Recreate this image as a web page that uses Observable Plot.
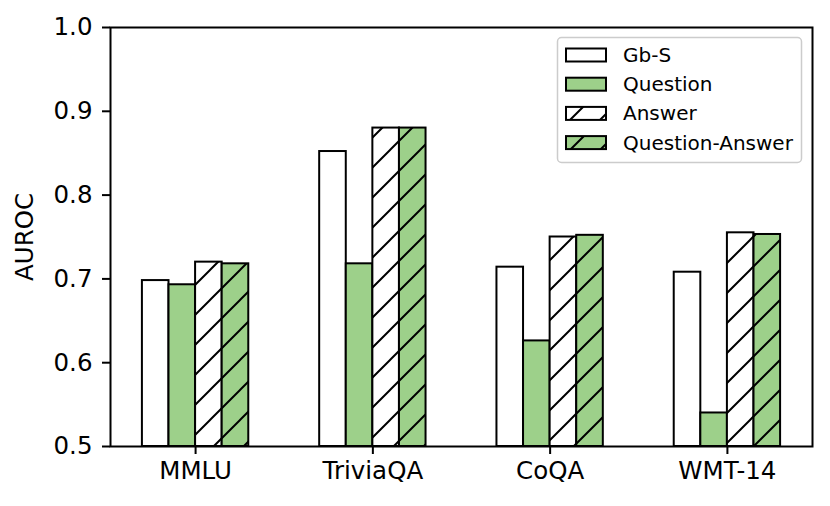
<!DOCTYPE html>
<html>
<head>
<meta charset="utf-8">
<script src="https://cdn.jsdelivr.net/npm/d3@7"></script>
<script src="https://cdn.jsdelivr.net/npm/@observablehq/plot@0.6"></script>
<style>
  html, body { margin: 0; padding: 0; background: white; }
  #chart svg { display: block; }
</style>
</head>
<body>
<div id="chart"></div>
<script>
const categories = ["MMLU", "TriviaQA", "CoQA", "WMT-14"];
const series = ["Gb-S", "Question", "Answer", "Question-Answer"];
const gbs      = [0.698, 0.852, 0.714, 0.708];
const question = [0.693, 0.718, 0.626, 0.540];
const answer   = [0.720, 0.880, 0.750, 0.755];
const qa       = [0.718, 0.880, 0.752, 0.753];
const yTicks = [0.5, 0.6, 0.7, 0.8, 0.9, 1.0];
const yDomain = [0.5, 1.0];

const GREEN = "#9dd08a";
const fills = ["white", GREEN, "url(#hatchW)", "url(#hatchG)"];
const values = [gbs, question, answer, qa];
const barW = 0.15;
const FS = 24.5;

const rows = categories.flatMap((c, i) =>
  series.map((s, j) => ({
    i, j, cat: c, series: s, value: values[j][i],
    x1: i + (j - 2) * barW, x2: i + (j - 1) * barW
  }))
);

const chart = Plot.plot({
  width: 830,
  height: 506,
  marginLeft: 110,
  marginRight: 18,
  marginTop: 27,
  marginBottom: 60,
  style: { fontFamily: "DejaVu Sans", fontSize: FS + "px", color: "black", background: "white" },
  x: { domain: [-0.48, 3.48] },
  y: { domain: yDomain },
  marks: [
    ...series.map((s, j) =>
      Plot.rect(rows.filter(d => d.j === j), {
        x1: "x1", x2: "x2", y1: () => yDomain[0], y2: "value",
        fill: j === 1 ? GREEN : "white", stroke: "black", strokeWidth: 2
      })
    ),
    Plot.axisX({ ticks: [0, 1, 2, 3], tickFormat: i => categories[i], tickSize: 8, tickPadding: 7,
      strokeWidth: 2, fontSize: FS, label: null }),
    Plot.axisY({ ticks: yTicks, tickFormat: d3.format(".1f"), tickSize: 8, tickPadding: 10,
      strokeWidth: 2, fontSize: FS, label: null }),
    Plot.text(["AUROC"], { frameAnchor: "left", dx: -85, rotate: -90, text: d => d, fontSize: FS, textAnchor: "middle" }),
    Plot.frame({ stroke: "black", strokeWidth: 2 })
  ]
});

document.getElementById("chart").appendChild(chart);

const svg = d3.select(chart);
const defs = svg.insert("defs", ":first-child");
function makeHatch(id, bg) {
  const P = 30;
  const p = defs.append("pattern").attr("id", id).attr("patternUnits", "userSpaceOnUse")
    .attr("width", P).attr("height", P);
  p.append("rect").attr("width", P).attr("height", P).attr("fill", bg);
  p.append("path").attr("d", `M0,${P} L${P},0 M-6,6 L6,-6 M${P-6},${P+6} L${P+6},${P-6}`)
    .attr("stroke", "black").attr("stroke-width", 2).attr("fill", "none");
}
makeHatch("hatchW", "white");
makeHatch("hatchG", GREEN);

// apply fills to the four bar marks
svg.selectAll('g[aria-label="rect"]').each(function(_, j) {
  d3.select(this).attr("fill", fills[j]).selectAll("rect").attr("fill", fills[j]);
});

// legend inside the plot area
const lg = svg.append("g").attr("font-family", "DejaVu Sans").attr("font-size", 20)
  .attr("text-anchor", "start");
lg.append("rect").attr("x", 557.5).attr("y", 37.5).attr("width", 244).attr("height", 125)
  .attr("rx", 4).attr("fill", "white").attr("fill-opacity", 0.8).attr("stroke", "#cccccc").attr("stroke-width", 1.5);
series.forEach((s, j) => {
  const cy = 55 + 29.2 * j;
  lg.append("rect").attr("x", 566).attr("y", cy - 6.5).attr("width", 40).attr("height", 13)
    .attr("fill", fills[j]).attr("stroke", "black").attr("stroke-width", 2);
  lg.append("text").attr("x", 623).attr("y", cy).attr("dy", "0.35em").attr("fill", "black")
    .attr("text-anchor", "start").text(s);
});
</script>
</body>
</html>
